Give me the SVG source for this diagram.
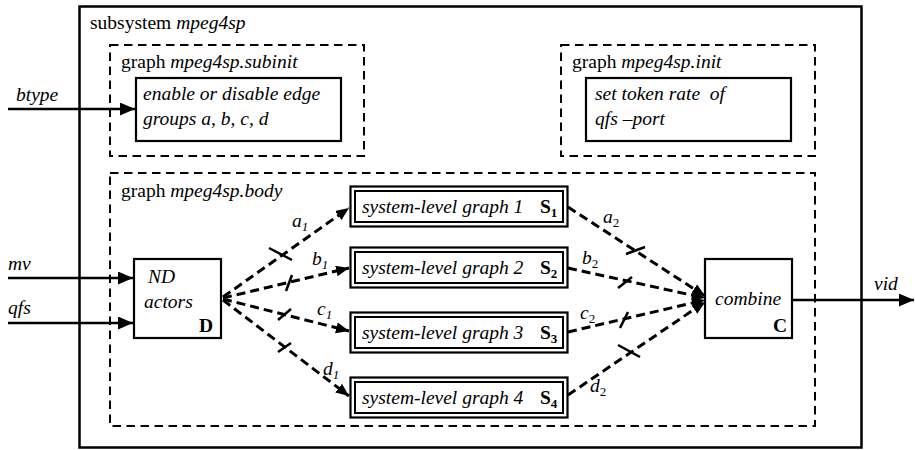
<svg xmlns="http://www.w3.org/2000/svg" width="915" height="450" viewBox="0 0 915 450">
<defs>
<style>
text{font-family:"Liberation Serif","Times New Roman",serif;font-size:19.5px;fill:#000}
.it{font-style:italic}
.b{font-weight:bold}
.sub{font-size:13px}
.box{fill:#fff;stroke:#000;stroke-width:2.2}
.grp{fill:none;stroke:#000;stroke-width:2;stroke-dasharray:8.5 5.5}
.wire{fill:none;stroke:#000;stroke-width:2.5}
.dash{fill:none;stroke:#000;stroke-width:3;stroke-dasharray:9 5}
.tick{fill:none;stroke:#000;stroke-width:2.5}
</style>
<marker id="ah" markerUnits="userSpaceOnUse" markerWidth="16" markerHeight="14" refX="15" refY="6.5" orient="auto"><path d="M0,0 L15,6.5 L0,13 z" fill="#000" stroke="none"/></marker>
<marker id="ah2" markerUnits="userSpaceOnUse" markerWidth="14" markerHeight="12" refX="13" refY="5.5" orient="auto"><path d="M0,0 L13,5.5 L0,11 z" fill="#000" stroke="none"/></marker>
</defs>
<rect width="915" height="450" fill="#fff"/>

<g id="subsystem">
<rect x="79.5" y="6.5" width="782" height="441" fill="none" stroke="#000" stroke-width="2.5"/>
<text x="90" y="29">subsystem <tspan class="it">mpeg4sp</tspan></text>
</g>

<g id="subinit">
<rect class="grp" x="110" y="45" width="254" height="111"/>
<text x="121" y="68">graph <tspan class="it">mpeg4sp.subinit</tspan></text>
<rect class="box" x="136" y="78" width="205" height="63"/>
<text class="it" x="143" y="100">enable or disable edge</text>
<text class="it" x="143" y="125">groups a, b, c, d</text>
</g>

<g id="init">
<rect class="grp" x="561" y="45" width="254" height="111"/>
<text x="572" y="68">graph <tspan class="it">mpeg4sp.init</tspan></text>
<rect class="box" x="586" y="78" width="205" height="63"/>
<text class="it" x="595" y="100" xml:space="preserve">set token rate  of</text>
<text class="it" x="595" y="125">qfs –port</text>
</g>

<g id="body">
<rect class="grp" x="110" y="173" width="705" height="253"/>
<text x="121" y="197">graph <tspan class="it">mpeg4sp.body</tspan></text>
</g>

<g id="D">
<rect class="box" x="134" y="259" width="87" height="79"/>
<text class="it" x="148" y="283">ND</text>
<text class="it" x="144" y="308">actors</text>
<text class="b" x="199" y="332">D</text>
</g>

<g id="C">
<rect class="box" x="705" y="259" width="87" height="79"/>
<text class="it" x="715" y="305">combine</text>
<text class="b" x="773" y="332">C</text>
</g>

<g id="S1">
<rect class="box" x="350.5" y="186.5" width="217" height="40"/>
<rect fill="none" stroke="#000" stroke-width="2" x="355" y="191" width="208" height="31"/>
<text class="it" x="362" y="213">system-level graph 1</text>
<text class="b" x="540" y="213">S<tspan class="sub" dy="4">1</tspan></text>
</g>
<g id="S2">
<rect class="box" x="350.5" y="247.5" width="217" height="40"/>
<rect fill="none" stroke="#000" stroke-width="2" x="355" y="252" width="208" height="31"/>
<text class="it" x="362" y="274">system-level graph 2</text>
<text class="b" x="540" y="274">S<tspan class="sub" dy="4">2</tspan></text>
</g>
<g id="S3">
<rect class="box" x="350.5" y="312.5" width="217" height="40"/>
<rect fill="none" stroke="#000" stroke-width="2" x="355" y="317" width="208" height="31"/>
<text class="it" x="362" y="339">system-level graph 3</text>
<text class="b" x="540" y="339">S<tspan class="sub" dy="4">3</tspan></text>
</g>
<g id="S4">
<rect class="box" x="350.5" y="377.5" width="217" height="40"/>
<rect fill="none" stroke="#000" stroke-width="2" x="355" y="382" width="208" height="31"/>
<text class="it" x="362" y="404">system-level graph 4</text>
<text class="b" x="540" y="404">S<tspan class="sub" dy="4">4</tspan></text>
</g>

<g id="connectors">
<line class="wire" x1="8" y1="109" x2="135" y2="109" marker-end="url(#ah)"/>
<line class="wire" x1="8" y1="278" x2="133" y2="278" marker-end="url(#ah)"/>
<line class="wire" x1="8" y1="323" x2="133" y2="323" marker-end="url(#ah)"/>
<line class="wire" x1="792" y1="300" x2="914" y2="300" marker-end="url(#ah)"/>

<line class="dash" x1="223" y1="297" x2="349" y2="208" marker-end="url(#ah2)"/>
<line class="dash" x1="223" y1="298" x2="349" y2="268" marker-end="url(#ah2)"/>
<line class="dash" x1="223" y1="299" x2="349" y2="331" marker-end="url(#ah2)"/>
<line class="dash" x1="223" y1="300" x2="349" y2="396" marker-end="url(#ah2)"/>

<line class="dash" x1="568" y1="207" x2="705" y2="296" marker-end="url(#ah2)"/>
<line class="dash" x1="568" y1="268" x2="705" y2="298" marker-end="url(#ah2)"/>
<line class="dash" x1="568" y1="332" x2="705" y2="300" marker-end="url(#ah2)"/>
<line class="dash" x1="568" y1="395" x2="705" y2="302" marker-end="url(#ah2)"/>

<line class="tick" x1="269" y1="248" x2="292" y2="260"/>
<line class="tick" x1="286" y1="291" x2="292" y2="275"/>
<line class="tick" x1="278" y1="320" x2="291" y2="309"/>
<line class="tick" x1="278" y1="352" x2="291" y2="343"/>
<line class="tick" x1="626" y1="254" x2="645" y2="247"/>
<line class="tick" x1="618" y1="288" x2="632" y2="277"/>
<line class="tick" x1="620" y1="328" x2="628" y2="312"/>
<line class="tick" x1="618" y1="345" x2="640" y2="357"/>

<text class="it" x="16" y="101">btype</text>
<text class="it" x="8" y="270">mv</text>
<text class="it" x="8" y="314">qfs</text>
<text class="it" x="874" y="290">vid</text>

<text class="it" x="292" y="227">a<tspan class="sub" dy="4">1</tspan></text>
<text class="it" x="312" y="265">b<tspan class="sub" dy="4">1</tspan></text>
<text class="it" x="317" y="315">c<tspan class="sub" dy="4">1</tspan></text>
<text class="it" x="323" y="375">d<tspan class="sub" dy="4">1</tspan></text>
<text class="it" x="603" y="223">a<tspan class="sub" font-style="normal" dy="4">2</tspan></text>
<text class="it" x="582" y="264">b<tspan class="sub" font-style="normal" dy="4">2</tspan></text>
<text class="it" x="580" y="319">c<tspan class="sub" font-style="normal" dy="4">2</tspan></text>
<text class="it" x="590" y="392">d<tspan class="sub" font-style="normal" dy="4">2</tspan></text>
</g>
</svg>
